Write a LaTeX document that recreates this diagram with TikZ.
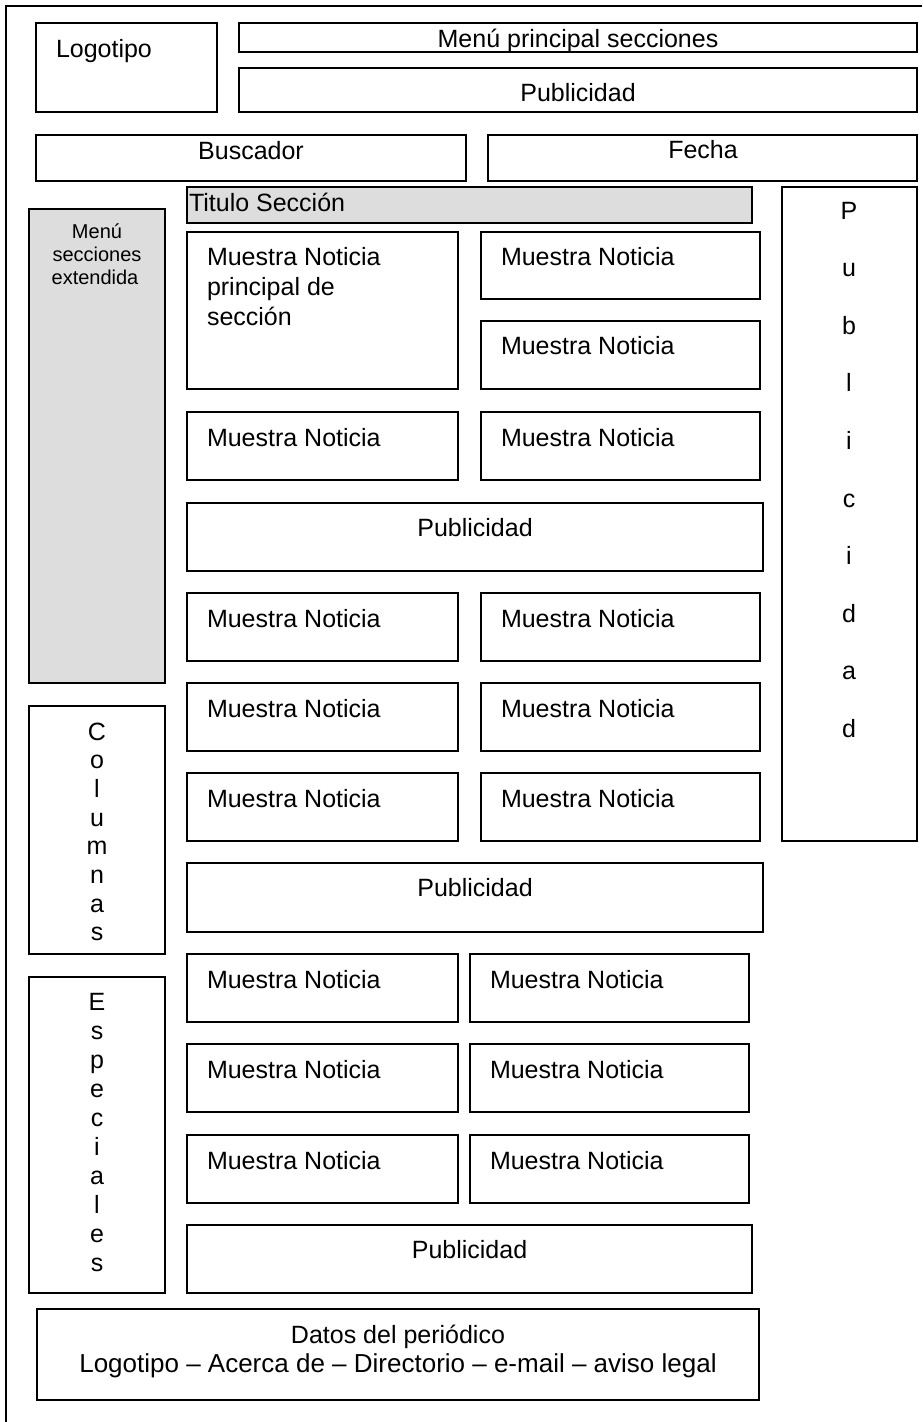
\documentclass[tikz,border=0pt]{standalone}
\usepackage{fontspec}
\setmainfont{Liberation Sans}
\definecolor{panelgray}{HTML}{DDDDDD}
\tikzset{
  box/.style={draw=black, line width=1.5pt, rectangle, inner sep=0pt, outer sep=0pt},
  graybox/.style={box, fill=panelgray},
  txt/.style={inner sep=0pt, outer sep=0pt, font=\fontsize{25}{30}\selectfont},
  smalltxt/.style={inner sep=0pt, outer sep=0pt, font=\fontsize{20}{23}\selectfont},
  frame/.style={line width=1.8pt, draw=black}
}
\newcommand\mkbox[6]{%
  \node[#6, minimum width={(#4-#2)*1pt}, minimum height={(#5-#3)*1pt}] (#1) at ({(#2+#4)/2},{(#3+#5)/2}) {};%
}
\begin{document}
\begin{tikzpicture}[x=1pt,y=-1pt]
\useasboundingbox (0,0) rectangle (922,1422);
\fill[white] (0,0) rectangle (922,1422);
% outer frame (open at right and bottom)
\draw[frame] (922,6) -- (6,6) -- (6,1422);

% header
\mkbox{logo}{36}{23}{217}{112}{box}
\node[txt, anchor=base west] (logot) at (56,57) {Logotipo};
\mkbox{menu}{239}{23}{917}{52}{box}
\node[txt, anchor=base] (menut) at (578,47) {Menú principal secciones};
\mkbox{pub0}{239}{68}{917}{112}{box}
\node[txt, anchor=base] (pub0t) at (578,101) {Publicidad};
\mkbox{busc}{36}{135}{466}{181}{box}
\node[txt, anchor=base] (busct) at (251,159) {Buscador};
\mkbox{fecha}{488}{135}{917}{181}{box}
\node[txt, anchor=base] (fechat) at (703,158) {Fecha};

% title
\mkbox{titulo}{187}{187}{752}{223}{graybox}
\node[txt, anchor=base west] (titulot) at (189,211) {Titulo Sección};

% right vertical Publicidad
\mkbox{pubv}{782}{187}{917}{841}{box}
\foreach \l [count=\i from 0] in {P,u,b,l,i,c,i,d,a,d}
  \node[txt, anchor=base] (pubv\i) at (849,{219+57.6*\i}) {\l};

% left menu
\mkbox{menusec}{29}{209}{165}{683}{graybox}
\node[smalltxt, anchor=base] (menusec1) at (97,238) {Menú};
\node[smalltxt, anchor=base] (menusec2) at (97,261) {secciones};
\node[smalltxt, anchor=base] (menusec3) at (95,284) {extendida};

% Columnas
\mkbox{col}{29}{706}{165}{954}{box}
\foreach \l [count=\i from 0] in {C,o,l,u,m,n,a,s}
  \node[txt, anchor=base] (col\i) at (97,{740+28.7*\i}) {\l};

% Especiales
\mkbox{esp}{29}{977}{165}{1293}{box}
\foreach \l [count=\i from 0] in {E,s,p,e,c,i,a,l,e,s}
  \node[txt, anchor=base] (esp\i) at (97,{1010+29*\i}) {\l};

% main news
\mkbox{mnp}{187}{232}{458}{389}{box}
\node[txt, anchor=base west] (mnpt1) at (207,265) {Muestra Noticia};
\node[txt, anchor=base west] (mnpt2) at (207,295) {principal de};
\node[txt, anchor=base west] (mnpt3) at (207,325) {sección};
\mkbox{mnr1}{481}{232}{760}{299}{box}
\node[txt, anchor=base west] (mnr1t) at (501,265) {Muestra Noticia};
\mkbox{mnr2}{481}{321}{760}{389}{box}
\node[txt, anchor=base west] (mnr2t) at (501,354) {Muestra Noticia};

% upper grid rows
\foreach \t [count=\k] in {412,593,683,773}{
  \mkbox{ua\k}{187}{\t}{458}{\t+68}{box}
  \node[txt, anchor=base west] (uat\k) at (207,\t+34) {Muestra Noticia};
  \mkbox{ub\k}{481}{\t}{760}{\t+68}{box}
  \node[txt, anchor=base west] (ubt\k) at (501,\t+34) {Muestra Noticia};
}
\mkbox{pub1}{187}{503}{763}{571}{box}
\node[txt, anchor=base] (pub1t) at (475,536) {Publicidad};
\mkbox{pub2}{187}{863}{763}{932}{box}
\node[txt, anchor=base] (pub2t) at (475,896) {Publicidad};

% lower grid rows
\foreach \t [count=\k] in {954,1044,1135}{
  \mkbox{la\k}{187}{\t}{458}{\t+68}{box}
  \node[txt, anchor=base west] (lat\k) at (207,\t+34) {Muestra Noticia};
  \mkbox{lb\k}{470}{\t}{749}{\t+68}{box}
  \node[txt, anchor=base west] (lbt\k) at (490,\t+34) {Muestra Noticia};
}
\mkbox{pub3}{187}{1225}{752}{1293}{box}
\node[txt, anchor=base] (pub3t) at (469.5,1258) {Publicidad};

% footer
\mkbox{datos}{37}{1309}{759}{1400}{box}
\node[txt, anchor=base] (datost1) at (398,1343) {Datos del periódico};
\node[txt, font=\fontsize{26}{30}\selectfont, anchor=base] (datost2) at (398,1372) {Logotipo – Acerca de – Directorio – e-mail – aviso legal};
\end{tikzpicture}
\end{document}
